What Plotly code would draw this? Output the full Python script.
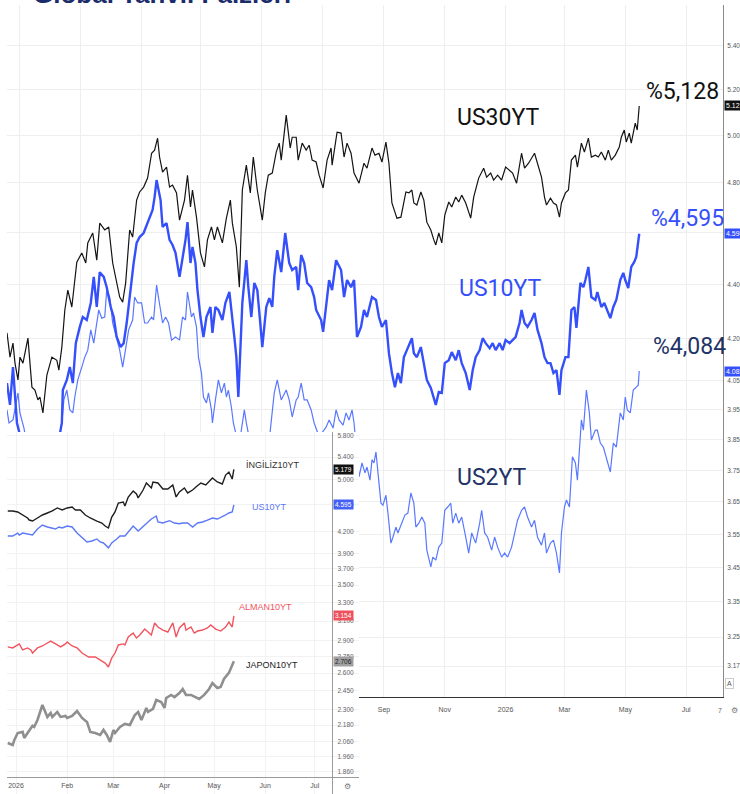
import math
import pandas as pd
import plotly.graph_objects as go

# ---------------- DATA ----------------
# Main chart: day offsets from 2025-09-01 and yields (%)
MAIN_BASE = "2025-09-01"
us30_days = [
    -378, -375, -372, -370, -367, -365, -362, -357, -353, -350,
    -347, -345, -342, -338, -333, -328, -326, -323, -320, -317,
    -313, -311, -308, -303, -299, -297, -292, -288, -285, -280,
    -276, -272, -268, -265, -262, -259, -255, -252, -248, -245,
    -241, -237, -233, -230, -227, -225, -222, -218, -215, -212,
    -208, -205, -200, -197, -194, -192, -188, -184, -180, -177,
    -173, -170, -167, -162, -158, -154, -152, -148, -145, -142,
    -138, -134, -131, -127, -122, -119, -116, -112, -108, -105,
    -103, -98, -94, -92, -88, -86, -82, -78, -75, -72,
    -68, -65, -61, -57, -53, -52, -47, -43, -40, -37,
    -33, -30, -25, -20, -17, -12, -9, -5, -2, 2,
    5, 8, 11, 13, 17, 22, 25, 28, 30, 33,
    37, 40, 43, 47, 50, 52, 55, 58, 61, 65,
    68, 72, 75, 78, 82, 87, 90, 95, 100, 103,
    107, 110, 114, 118, 122, 126, 129, 133, 138, 141,
    145, 151, 155, 158, 161, 163, 167, 170, 173, 176,
    178, 182, 185, 188, 192, 194, 198, 201, 205, 208,
    212, 215, 218, 222, 225, 228, 232, 236, 238, 241,
    243, 246, 248, 252, 254, 256]
us30_vals = [
    4.220, 4.133, 4.183, 4.112, 4.053, 4.133, 4.112, 4.201, 4.028, 4.018,
    3.984, 3.994, 3.940, 4.070, 4.133, 4.122, 4.087, 4.169, 4.304, 4.378,
    4.315, 4.389, 4.484, 4.520, 4.481, 4.559, 4.598, 4.492, 4.637, 4.610,
    4.622, 4.481, 4.405, 4.352, 4.333, 4.405, 4.610, 4.582, 4.730, 4.763,
    4.783, 4.820, 4.924, 4.937, 4.988, 4.908, 4.845, 4.866, 4.783, 4.791,
    4.759, 4.649, 4.730, 4.832, 4.702, 4.771, 4.661, 4.520, 4.466, 4.571,
    4.622, 4.571, 4.622, 4.559, 4.657, 4.730, 4.637, 4.543, 4.389, 4.771,
    4.874, 4.759, 4.908, 4.771, 4.649, 4.759, 4.832, 4.841, 4.929, 4.967,
    4.895, 5.088, 4.946, 4.992, 4.992, 4.895, 4.967, 4.937, 4.958, 4.895,
    4.887, 4.832, 4.779, 4.895, 4.946, 4.874, 5.014, 5.010, 4.908, 4.967,
    4.924, 4.841, 4.799, 4.882, 4.861, 4.946, 4.916, 4.924, 4.887, 4.971,
    4.882, 4.718, 4.681, 4.657, 4.661, 4.763, 4.759, 4.771, 4.718, 4.710,
    4.763, 4.730, 4.641, 4.610, 4.571, 4.551, 4.598, 4.559, 4.669, 4.722,
    4.702, 4.742, 4.722, 4.750, 4.718, 4.657, 4.742, 4.820, 4.861, 4.824,
    4.841, 4.812, 4.832, 4.812, 4.866, 4.853, 4.841, 4.799, 4.924, 4.861,
    4.882, 4.924, 4.870, 4.824, 4.742, 4.710, 4.738, 4.718, 4.710, 4.661,
    4.718, 4.759, 4.771, 4.895, 4.916, 4.866, 4.967, 4.929, 4.988, 4.908,
    4.916, 4.908, 4.929, 4.895, 4.937, 4.895, 4.916, 4.950, 4.992, 5.023,
    4.971, 5.010, 4.967, 5.053, 5.023, 5.128]

us10_days = [
    -378, -375, -372, -368, -360, -350, -340, -330, -323, -322,
    -318, -315, -312, -309, -305, -302, -298, -294, -291, -288,
    -285, -281, -278, -274, -271, -268, -264, -261, -258, -254,
    -251, -248, -245, -241, -237, -232, -230, -228, -224, -222,
    -218, -215, -212, -209, -205, -202, -199, -197, -194, -192,
    -189, -187, -184, -181, -178, -174, -172, -169, -166, -162,
    -159, -155, -152, -150, -148, -146, -142, -138, -136, -133,
    -130, -127, -124, -122, -118, -115, -112, -110, -107, -103,
    -99, -95, -92, -88, -86, -83, -80, -77, -73, -70,
    -68, -63, -61, -58, -55, -52, -48, -43, -40, -37,
    -33, -30, -27, -23, -20, -17, -12, -8, -5, -2,
    2, 5, 8, 11, 14, 17, 20, 23, 28, 30,
    33, 37, 40, 43, 47, 50, 52, 55, 58, 61,
    65, 68, 72, 75, 78, 82, 86, 89, 92, 96,
    99, 102, 106, 109, 112, 116, 119, 122, 126, 129,
    132, 136, 138, 141, 144, 148, 151, 154, 158, 161,
    164, 167, 170, 173, 176, 178, 182, 185, 188, 191,
    193, 197, 200, 202, 205, 208, 212, 214, 218, 221,
    224, 227, 230, 233, 237, 240, 242, 245, 248, 251,
    253, 256]
us10_vals = [
    4.042, 3.967, 4.098, 3.906, 3.80, 3.72, 3.70, 3.78, 3.906, 4.018,
    4.053, 4.098, 4.042, 4.183, 4.242, 4.278, 4.267, 4.330, 4.428, 4.315,
    4.446, 4.428, 4.389, 4.315, 4.278, 4.205, 4.169, 4.183, 4.256, 4.389,
    4.481, 4.559, 4.582, 4.598, 4.637, 4.690, 4.742, 4.812, 4.730, 4.622,
    4.637, 4.571, 4.551, 4.520, 4.428, 4.492, 4.571, 4.641, 4.481, 4.543,
    4.481, 4.378, 4.278, 4.205, 4.278, 4.315, 4.220, 4.315, 4.304, 4.267,
    4.330, 4.371, 4.278, 4.205, 4.133, 3.994, 4.330, 4.492, 4.389, 4.278,
    4.405, 4.378, 4.256, 4.169, 4.315, 4.348, 4.315, 4.428, 4.531, 4.446,
    4.598, 4.481, 4.454, 4.466, 4.378, 4.512, 4.481, 4.405, 4.389, 4.352,
    4.304, 4.267, 4.224, 4.330, 4.416, 4.378, 4.492, 4.454, 4.352, 4.416,
    4.389, 4.416, 4.205, 4.242, 4.304, 4.278, 4.352, 4.341, 4.278, 4.242,
    4.267, 4.147, 4.077, 4.028, 4.077, 4.042, 4.133, 4.158, 4.201, 4.147,
    4.133, 4.169, 4.112, 4.053, 4.025, 3.994, 3.967, 4.011, 4.008, 4.112,
    4.122, 4.151, 4.122, 4.158, 4.112, 4.077, 4.018, 4.087, 4.133, 4.158,
    4.201, 4.183, 4.165, 4.183, 4.158, 4.183, 4.158, 4.194, 4.183, 4.194,
    4.205, 4.256, 4.304, 4.256, 4.242, 4.267, 4.293, 4.231, 4.183, 4.133,
    4.112, 4.112, 4.077, 4.087, 4.001, 4.087, 4.133, 4.133, 4.304, 4.315,
    4.238, 4.405, 4.389, 4.416, 4.466, 4.352, 4.341, 4.371, 4.315, 4.330,
    4.304, 4.274, 4.315, 4.341, 4.416, 4.443, 4.416, 4.386, 4.466, 4.485,
    4.504, 4.595]

us2_days = [
    -378, -376, -372, -367, -365, -361, -353, -343, -333, -323,
    -321, -318, -315, -312, -310, -307, -303, -300, -297, -294,
    -291, -288, -286, -283, -280, -278, -275, -272, -268, -265,
    -262, -259, -256, -252, -250, -247, -243, -240, -237, -233,
    -231, -228, -226, -222, -219, -216, -213, -209, -205, -202,
    -199, -197, -193, -191, -188, -186, -183, -181, -178, -176,
    -173, -172, -169, -166, -163, -160, -158, -156, -153, -151,
    -147, -144, -140, -138, -133, -127, -120, -115, -110, -107,
    -103, -100, -98, -95, -92, -88, -86, -83, -80, -77,
    -73, -70, -65, -58, -55, -51, -48, -45, -41, -38,
    -35, -32, -30, -27, -25, -22, -19, -17, -14, -12,
    -10, -8, -6, -3, -1, 2, 4, 7, 9, 12,
    14, 18, 21, 24, 27, 30, 32, 35, 38, 41,
    43, 47, 49, 52, 55, 58, 61, 64, 67, 69,
    72, 75, 78, 82, 85, 88, 92, 96, 98, 101,
    104, 108, 111, 114, 118, 121, 124, 128, 131, 134,
    138, 141, 144, 148, 151, 154, 158, 161, 163, 167,
    170, 173, 176, 178, 181, 183, 186, 189, 192, 194,
    198, 200, 203, 206, 208, 212, 214, 217, 220, 223,
    227, 230, 233, 237, 240, 242, 244, 247, 250, 253,
    255, 256]
us2_vals = [
    3.950, 3.906, 3.916, 4.008, 3.940, 3.889, 3.75, 3.62, 3.70, 3.906,
    3.984, 4.018, 3.950, 3.940, 3.994, 4.053, 4.098, 4.133, 4.158, 4.231,
    4.183, 4.256, 4.304, 4.274, 4.278, 4.378, 4.352, 4.256, 4.205, 4.158,
    4.098, 4.158, 4.231, 4.267, 4.352, 4.330, 4.330, 4.256, 4.256, 4.278,
    4.267, 4.397, 4.352, 4.256, 4.278, 4.256, 4.194, 4.205, 4.194, 4.278,
    4.267, 4.371, 4.278, 4.293, 4.242, 4.133, 4.077, 3.994, 3.974, 4.008,
    3.950, 3.906, 3.984, 4.053, 4.008, 4.042, 3.994, 4.018, 3.960, 3.906,
    3.85, 3.86, 3.950, 3.906, 3.82, 3.78, 3.80, 3.85, 4.008, 4.053,
    3.984, 4.008, 4.018, 3.984, 3.926, 3.984, 3.994, 4.042, 3.984, 3.984,
    3.950, 3.906, 3.86, 3.892, 3.916, 3.889, 3.950, 3.916, 3.899, 3.940,
    3.916, 3.950, 3.906, 3.80, 3.729, 3.774, 3.742, 3.761, 3.719, 3.784,
    3.774, 3.810, 3.742, 3.646, 3.640, 3.671, 3.615, 3.523, 3.541, 3.572,
    3.554, 3.584, 3.609, 3.615, 3.678, 3.646, 3.572, 3.584, 3.603, 3.584,
    3.502, 3.452, 3.481, 3.472, 3.511, 3.523, 3.624, 3.634, 3.646, 3.584,
    3.615, 3.584, 3.603, 3.541, 3.493, 3.554, 3.523, 3.584, 3.624, 3.554,
    3.541, 3.502, 3.541, 3.511, 3.481, 3.493, 3.481, 3.511, 3.554, 3.593,
    3.624, 3.634, 3.603, 3.572, 3.593, 3.541, 3.517, 3.554, 3.493, 3.523,
    3.532, 3.493, 3.434, 3.554, 3.634, 3.656, 3.634, 3.794, 3.774, 3.719,
    3.916, 3.882, 4.018, 3.940, 3.849, 3.882, 3.882, 3.839, 3.826, 3.794,
    3.745, 3.839, 3.826, 3.940, 3.916, 3.994, 3.950, 3.940, 4.018, 4.028,
    4.035, 4.084]

main_tick_dates = ["2024-09-01", "2024-11-01", "2025-01-01", "2025-03-01", "2025-05-01",
                   "2025-07-01", "2025-09-01", "2025-11-01", "2026-01-01", "2026-03-01",
                   "2026-05-01", "2026-07-01"]
main_tick_text = ["Sep", "Nov", "2025", "Mar", "May", "Jul", "Sep", "Nov", "2026", "Mar", "May", "Jul"]
main_y_ticks = [5.40, 5.20, 5.00, 4.80, 4.60, 4.40, 4.20, 4.05, 3.95, 3.85, 3.75, 3.65,
                3.55, 3.45, 3.35, 3.25, 3.17]

# Inset chart: day offsets from 2026-01-01 and 10-year yields (%)
INSET_BASE = "2026-01-01"
uk10_days = [-5, -2, 1, 4, 7, 8, 10, 13, 16, 19,
             22, 25, 28, 31, 34, 36, 39, 42, 45, 49,
             52, 54, 56, 58, 60, 62, 65, 66, 68, 71,
             73, 74, 77, 79, 82, 83, 86, 89, 92, 95,
             97, 99, 102, 104, 107, 109, 112, 115, 117, 119,
             122, 125, 127, 129, 131, 132]
uk10_vals = [4.500, 4.500, 4.485, 4.439, 4.394, 4.364, 4.349, 4.394, 4.439, 4.469,
             4.500, 4.546, 4.515, 4.546, 4.561, 4.515, 4.515, 4.439, 4.394, 4.349,
             4.320, 4.276, 4.248, 4.409, 4.485, 4.623, 4.639, 4.577, 4.718, 4.815,
             4.766, 4.702, 4.831, 4.947, 4.864, 4.964, 4.947, 4.847, 4.847, 4.913,
             4.718, 4.799, 4.864, 4.783, 4.831, 4.880, 4.947, 4.913, 4.980, 5.031,
             4.964, 4.930, 5.082, 5.134, 5.014, 5.179]

usi10_days = [-5, -2, 1, 2, 4, 7, 10, 13, 16, 19,
              22, 24, 26, 28, 31, 34, 37, 40, 43, 46,
              49, 51, 53, 56, 58, 61, 63, 66, 69, 71,
              74, 77, 80, 82, 85, 86, 89, 93, 96, 99,
              101, 104, 107, 110, 113, 116, 119, 122, 125, 127,
              129, 131, 132]
usi10_vals = [4.134, 4.134, 4.176, 4.148, 4.176, 4.162, 4.148, 4.233, 4.291, 4.262,
              4.248, 4.233, 4.262, 4.248, 4.276, 4.262, 4.176, 4.120, 4.052, 4.065,
              4.093, 4.052, 4.038, 3.972, 4.038, 4.093, 4.134, 4.134, 4.219, 4.276,
              4.205, 4.276, 4.335, 4.379, 4.424, 4.335, 4.320, 4.355, 4.320, 4.310,
              4.320, 4.320, 4.262, 4.320, 4.335, 4.364, 4.394, 4.379, 4.409, 4.439,
              4.469, 4.485, 4.595]

de10_days = [-5, -2, 1, 2, 4, 7, 9, 10, 13, 16,
             19, 21, 24, 27, 30, 31, 34, 37, 40, 44,
             48, 51, 54, 56, 58, 60, 62, 65, 66, 68,
             71, 73, 75, 78, 80, 82, 84, 86, 89, 92,
             95, 97, 99, 102, 103, 106, 108, 110, 113, 116,
             118, 121, 124, 127, 129, 131, 132]
de10_vals = [2.840, 2.830, 2.859, 2.869, 2.811, 2.830, 2.811, 2.782, 2.830, 2.849,
             2.878, 2.897, 2.869, 2.840, 2.869, 2.888, 2.849, 2.830, 2.782, 2.745,
             2.745, 2.717, 2.689, 2.653, 2.735, 2.782, 2.859, 2.869, 2.859, 2.937,
             2.977, 2.927, 2.957, 3.017, 2.987, 2.957, 3.080, 3.038, 3.007, 2.987,
             3.080, 2.937, 3.028, 3.080, 3.007, 3.038, 2.977, 2.997, 3.007, 3.028,
             3.059, 3.017, 2.997, 3.038, 3.090, 3.038, 3.154]

jp10_days = [-5, -2, -1, 1, 4, 5, 7, 10, 11, 13,
             16, 19, 21, 22, 25, 27, 30, 31, 34, 37,
             40, 43, 45, 48, 51, 53, 55, 57, 59, 60,
             63, 66, 69, 72, 74, 76, 79, 80, 83, 85,
             88, 90, 91, 94, 96, 99, 101, 103, 106, 109,
             111, 114, 117, 119, 122, 124, 126, 129, 131, 132]
jp10_vals = [2.052, 2.038, 2.073, 2.122, 2.130, 2.087, 2.122, 2.174, 2.166, 2.218,
             2.333, 2.241, 2.271, 2.241, 2.279, 2.241, 2.248, 2.233, 2.248, 2.286,
             2.233, 2.203, 2.130, 2.122, 2.108, 2.144, 2.108, 2.059, 2.144, 2.122,
             2.166, 2.188, 2.181, 2.256, 2.279, 2.218, 2.310, 2.279, 2.302, 2.373,
             2.357, 2.310, 2.389, 2.414, 2.397, 2.430, 2.463, 2.414, 2.414, 2.397,
             2.381, 2.414, 2.463, 2.513, 2.472, 2.480, 2.548, 2.601, 2.671, 2.706]

inset_tick_dates = ["2026-01-01", "2026-02-01", "2026-03-01", "2026-04-01",
                    "2026-05-01", "2026-06-01", "2026-07-01"]
inset_tick_text = ["2026", "Feb", "Mar", "Apr", "May", "Jun", "Jul"]
inset_y_ticks = [5.8, 5.4, 5.0, 4.6, 4.2, 3.9, 3.7, 3.5, 3.3, 3.1, 2.9, 2.75, 2.6,
                 2.45, 2.3, 2.18, 2.06, 1.96, 1.86]

# ---------------- LAYOUT HELPERS ----------------
W, H = 740, 794
ML, MR = 7, 15
PW = W - ML - MR


def px_x(p):
    return (p - ML) / PW


def px_y(q):
    return (H - q) / H


def to_dates(base, days):
    return pd.Timestamp(base) + pd.to_timedelta(days, unit="D")


BLACK = "#141414"
BLUE = "#3550fb"
BLUE_LIGHT = "#5a78ff"
NAVY = "#1f3366"
RED = "#f2545f"
GREY = "#8f8f8f"

fig = go.Figure()

# main chart
fig.add_trace(go.Scatter(x=to_dates(MAIN_BASE, us2_days), y=us2_vals, mode="lines",
                         line=dict(color=BLUE_LIGHT, width=1.2), xaxis="x", yaxis="y",
                         hoverinfo="skip", name="US2YT"))
fig.add_trace(go.Scatter(x=to_dates(MAIN_BASE, us10_days), y=us10_vals, mode="lines",
                         line=dict(color=BLUE, width=2.4), xaxis="x", yaxis="y",
                         hoverinfo="skip", name="US10YT"))
fig.add_trace(go.Scatter(x=to_dates(MAIN_BASE, us30_days), y=us30_vals, mode="lines",
                         line=dict(color=BLACK, width=1.2), xaxis="x", yaxis="y",
                         hoverinfo="skip", name="US30YT"))

# inset chart
fig.add_trace(go.Scatter(x=to_dates(INSET_BASE, uk10_days), y=uk10_vals, mode="lines",
                         line=dict(color="#1e1e1e", width=1.4), xaxis="x2", yaxis="y2",
                         hoverinfo="skip", name="İNGİLİZ10YT"))
fig.add_trace(go.Scatter(x=to_dates(INSET_BASE, usi10_days), y=usi10_vals, mode="lines",
                         line=dict(color="#5b78f6", width=1.4), xaxis="x2", yaxis="y2",
                         hoverinfo="skip", name="US10YT"))
fig.add_trace(go.Scatter(x=to_dates(INSET_BASE, de10_days), y=de10_vals, mode="lines",
                         line=dict(color=RED, width=1.4), xaxis="x2", yaxis="y2",
                         hoverinfo="skip", name="ALMAN10YT"))
fig.add_trace(go.Scatter(x=to_dates(INSET_BASE, jp10_days), y=jp10_vals, mode="lines",
                         line=dict(color=GREY, width=2.6), xaxis="x2", yaxis="y2",
                         hoverinfo="skip", name="JAPON10YT"))

GRID = "#eeeeee"
TICKFONT = dict(family="Liberation Sans", size=7, color="#555555")

fig.update_layout(
    width=W, height=H,
    margin=dict(l=ML, r=MR, t=0, b=0, pad=0),
    paper_bgcolor="white", plot_bgcolor="white",
    showlegend=False,
    font=dict(family="Liberation Sans"),
    xaxis=dict(domain=[0, 1], anchor="y", type="date",
               range=["2024-08-19", "2026-08-07"],
               tickmode="array", tickvals=main_tick_dates, ticktext=main_tick_text,
               showgrid=True, gridcolor=GRID, gridwidth=1, zeroline=False,
               showline=True, linecolor="#333333", linewidth=1,
               ticks="", tickfont=TICKFONT, ticklabelstandoff=6),
    yaxis=dict(domain=[px_y(697), px_y(5)], anchor="x", side="right", type="log",
               range=[math.log10(3.087), math.log10(5.5924)],
               tickmode="array", tickvals=main_y_ticks,
               ticktext=[f"{v:.2f}" for v in main_y_ticks],
               showgrid=True, gridcolor=GRID, gridwidth=1, zeroline=False,
               showline=True, linecolor="#8a8a8a", linewidth=1,
               ticks="", tickfont=dict(family="Liberation Sans", size=6.5, color="#555555"),
               ticklabelstandoff=2, ticklabeloverflow="allow"),
    xaxis2=dict(domain=[0, px_x(360)], anchor="free", position=px_y(777), type="date",
                range=["2025-12-26 13:00", "2026-07-27 20:00"],
                tickmode="array", tickvals=inset_tick_dates, ticktext=inset_tick_text,
                showgrid=True, gridcolor="#f2f2f2", gridwidth=1, zeroline=False,
                showline=True, linecolor="#9a9a9a", linewidth=1,
                ticks="", tickfont=TICKFONT, ticklabelstandoff=2),
    yaxis2=dict(domain=[0, px_y(432)], anchor="free", position=px_x(333), side="right",
                type="log", range=[0.23710, 0.76930],
                tickmode="array", tickvals=inset_y_ticks,
                ticktext=[f"{v:.3f}" for v in inset_y_ticks],
                showgrid=True, gridcolor="#f2f2f2", gridwidth=1, zeroline=False,
                showline=True, linecolor="#9a9a9a", linewidth=1,
                ticks="", tickfont=dict(family="Liberation Sans", size=6.5, color="#666666"),
                ticklabelstandoff=3),
)

ann = []
BIG = "Roboto"
# title (cut off at the top edge)
ann.append(dict(text="<b>Global Tahvil Faizleri</b>", xref="paper", yref="paper",
                x=px_x(31), y=px_y(11), xanchor="left", yanchor="bottom", showarrow=False,
                font=dict(family="Liberation Sans", size=26, color="#1b2c6b")))
# main labels
for txt, cx, cy, col in [("US30YT", 499, 118, "#111111"), ("%5,128", 684, 92, "#111111"),
                         ("US10YT", 501, 288, BLUE), ("%4,595", 689, 219, BLUE),
                         ("%4,084", 691, 346, NAVY), ("US2YT", 493, 477, NAVY)]:
    ann.append(dict(text=txt, xref="paper", yref="paper", x=px_x(cx), y=px_y(cy),
                    xanchor="center", yanchor="middle", showarrow=False,
                    font=dict(family=BIG, size=23, color=col)))
# main axis value boxes
for txt, v, bg in [("5.12", 5.128, "#111111"), ("4.59", 4.595, BLUE), ("4.08", 4.084, BLUE)]:
    ann.append(dict(text=txt, xref="paper", yref="y", x=px_x(726), y=math.log10(v),
                    xanchor="left", yanchor="middle", showarrow=False, bgcolor=bg,
                    borderpad=1, font=dict(family="Liberation Sans", size=7, color="white")))
ann.append(dict(text="A", xref="paper", yref="paper", x=px_x(727), y=px_y(683),
                xanchor="left", yanchor="middle", showarrow=False, bgcolor="white",
                bordercolor="#cccccc", borderwidth=1, borderpad=1,
                font=dict(family="Liberation Sans", size=7, color="#555555")))
ann.append(dict(text="7", xref="paper", yref="paper", x=px_x(722), y=px_y(710),
                xanchor="center", yanchor="middle", showarrow=False,
                font=dict(family="Liberation Sans", size=7, color="#666666")))
ann.append(dict(text="⚙", xref="paper", yref="paper", x=px_x(737), y=px_y(710),
                xanchor="center", yanchor="middle", showarrow=False,
                font=dict(size=8, color="#777777")))
# inset labels
for txt, cx, cy, col in [("İNGİLİZ10YT", 274, 465, "#333333"), ("US10YT", 270, 507, "#5b78f6"),
                         ("ALMAN10YT", 266, 607, RED), ("JAPON10YT", 273, 665, "#222222")]:
    ann.append(dict(text=txt, xref="paper", yref="paper", x=px_x(cx), y=px_y(cy),
                    xanchor="center", yanchor="middle", showarrow=False,
                    font=dict(family="Liberation Sans", size=9, color=col)))
# inset axis value boxes
for txt, v, bg, fc in [("5.179", 5.179, "#111111", "white"), ("4.595", 4.595, "#4560f5", "white"),
                       ("3.154", 3.154, "#f0505c", "white"), ("2.706", 2.706, "#a0a0a0", "#222222")]:
    ann.append(dict(text=txt, xref="paper", yref="y2", x=px_x(334), y=math.log10(v),
                    xanchor="left", yanchor="middle", showarrow=False, bgcolor=bg,
                    borderpad=1, font=dict(family="Liberation Sans", size=6.5, color=fc)))
ann.append(dict(text="⚙", xref="paper", yref="paper", x=px_x(348), y=px_y(786),
                xanchor="center", yanchor="middle", showarrow=False,
                font=dict(size=8, color="#777777")))
fig.update_layout(annotations=ann)

# remove the browser's default 8px body margin so the figure sits at the page origin
fig.write_html("out.html", config={"displayModeBar": False},
               post_script="document.body.style.margin='0px';document.body.style.overflow='hidden';")
